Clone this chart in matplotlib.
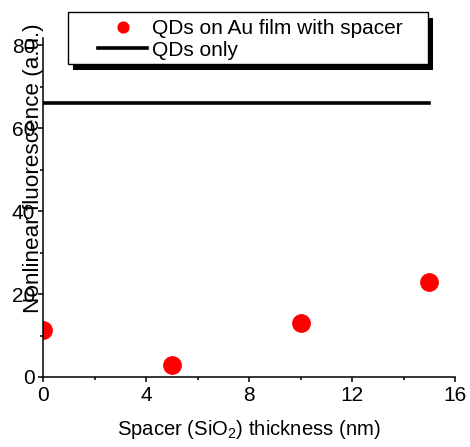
import matplotlib
matplotlib.use('Agg')
import matplotlib.pyplot as plt
from matplotlib.patches import Rectangle
from matplotlib.ticker import MultipleLocator

plt.rcParams['font.family'] = ['Liberation Sans', 'DejaVu Sans']
plt.rcParams['mathtext.default'] = 'regular'

# spacer thickness (nm) vs nonlinear fluorescence (a.u.)
thickness = [0, 5, 10, 15]
fluor_spacer = [11.3, 2.9, 13.0, 22.9]
qd_only_x = [0, 15]
qd_only_level = [66, 66]

fig = plt.figure(figsize=(4.70, 4.47), dpi=100)
ax = fig.add_axes([43/470, 1 - 377/447, 412/470, 339/447])

ax.plot(thickness, fluor_spacer, 'o', color='#ff0000', markersize=12.5,
        label='QDs on Au film with spacer', clip_on=True)
ax.plot(qd_only_x, qd_only_level, '-', color='k', linewidth=2.6, label='QDs only')

ax.set_xlim(0, 16)
ax.set_ylim(0, 81.7)
ax.xaxis.set_major_locator(MultipleLocator(4))
ax.xaxis.set_minor_locator(MultipleLocator(2))
ax.yaxis.set_major_locator(MultipleLocator(20))
ax.yaxis.set_minor_locator(MultipleLocator(10))
ax.spines['top'].set_visible(False)
ax.spines['right'].set_visible(False)
for s in ('left', 'bottom'):
    ax.spines[s].set_linewidth(1.1)
ax.tick_params(which='major', direction='out', length=3.6, width=1.1, labelsize=15)
ax.tick_params(which='minor', direction='out', length=2.5, width=1.1)
ax.tick_params(axis='y', which='major', pad=2)
ax.tick_params(axis='x', which='major', pad=3)

ax.set_xlabel('Spacer (SiO$_2$) thickness (nm)', fontsize=14.6, labelpad=9)
ax.set_ylabel('Nonlinear fluorescence (a.u.)', fontsize=16.2)
ax.yaxis.label.set_va('center')
ax.yaxis.set_label_coords(-0.024, 0.617)

# boxed legend with a solid drop shadow
ax.add_patch(Rectangle((73/470, 1 - 70/447), 360/470, 52/447,
                       transform=fig.transFigure, facecolor='k',
                       edgecolor='none', zorder=5, clip_on=False))
ax.add_patch(Rectangle((68/470, 1 - 64/447), 360/470, 52/447,
                       transform=fig.transFigure, facecolor='white',
                       edgecolor='k', linewidth=1, zorder=6, clip_on=False))
leg = ax.legend(loc='upper left', bbox_to_anchor=(98/470, 1 - 19/447),
                bbox_transform=fig.transFigure, frameon=False, fontsize=15,
                borderpad=0, borderaxespad=0, handlelength=2.36,
                handletextpad=0.25, labelspacing=0.12, markerscale=0.62)
leg.set_zorder(7)

fig.savefig('out.png', dpi=100)
